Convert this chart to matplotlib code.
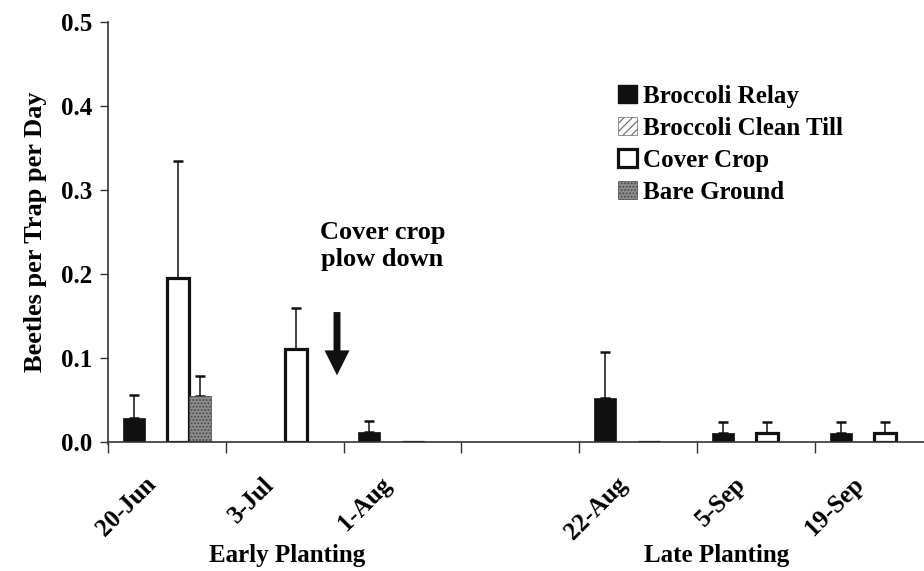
import numpy as np
import matplotlib
matplotlib.use('Agg')
import matplotlib.pyplot as plt
from matplotlib.patches import Patch
from matplotlib.ticker import FixedLocator, NullFormatter

plt.rcParams['font.family'] = ['Liberation Serif', 'DejaVu Serif']
plt.rcParams['font.weight'] = 'bold'
plt.rcParams['hatch.linewidth'] = 0.8

# dates (the empty slot is the gap between early and late planting)
dates = ['20-Jun', '3-Jul', '1-Aug', '', '22-Aug', '5-Sep', '19-Sep']
nan = np.nan

# beetles per trap per day, mean and upper error
relay = [0.028, 0.0, 0.012, nan, 0.052, 0.011, 0.011]
relay_err = [0.028, 0.0, 0.013, nan, 0.055, 0.013, 0.013]
clean_till = [0.0, 0.0, 0.0, nan, 0.0, 0.0, 0.0]
clean_till_err = [0.0, 0.0, 0.0, nan, 0.0, 0.0, 0.0]
cover = [0.195, 0.111, 0.0, nan, 0.0, 0.011, 0.011]
cover_err = [0.139, 0.049, 0.0, nan, 0.0, 0.013, 0.013]
bare = [0.055, 0.0, 0.0, nan, 0.0, 0.0, 0.0]
bare_err = [0.023, 0.0, 0.0, nan, 0.0, 0.0, 0.0]

group_names = ['Early Planting', 'Late Planting']
group_x = [1.02, 4.67]

fig = plt.figure(figsize=(9.24, 5.71), dpi=100)
ax = fig.add_axes([108 / 924, 129 / 571, 1 - 108 / 924, 420 / 571])

x = np.arange(len(dates))
w = 22 / 117.8

series = [
    (relay, relay_err, dict(facecolor='#111111', edgecolor='#111111', linewidth=0.5)),
    (clean_till, clean_till_err, dict(facecolor='white', edgecolor='#666666', hatch='////', linewidth=0.5)),
    (cover, cover_err, dict(facecolor='white', edgecolor='#111111', linewidth=2.3)),
    (bare, bare_err, dict(facecolor='#8c8c8c', edgecolor='#444444', hatch='.....', linewidth=0.5)),
]

for i, (vals, errs, style) in enumerate(series):
    pos = x + (i - 1.5) * w
    vals = np.array(vals)
    errs = np.array(errs)
    ax.bar(pos, vals, width=w, zorder=2, **style)
    m = errs > 0
    ax.errorbar(pos[m], vals[m], yerr=[np.zeros(m.sum()), errs[m]], fmt='none',
                ecolor='#111111', elinewidth=1.1, capsize=3.5, capthick=1.8, zorder=1)

ax.set_ylim(0, 0.5)
ax.set_xlim(-0.5, -0.5 + (924 - 108) / 117.8)
ax.set_yticks([0.0, 0.1, 0.2, 0.3, 0.4, 0.5])
ax.set_yticklabels(['0.0', '0.1', '0.2', '0.3', '0.4', '0.5'])

ax.xaxis.set_major_locator(FixedLocator(np.arange(len(dates) + 1) - 0.5))
ax.xaxis.set_major_formatter(NullFormatter())
ax.set_xticks(x - 0.12, minor=True)
ax.set_xticklabels(dates, minor=True, rotation=45, ha='right', va='center',
                   rotation_mode='anchor', fontsize=18, fontweight='bold')
ax.tick_params(axis='x', which='minor', length=0, pad=28)
ax.tick_params(axis='x', which='major', length=8, width=1, direction='out', color='#333333')
ax.tick_params(axis='y', length=6, width=1, direction='out', labelsize=18, color='#333333', pad=5)

for s in ['top', 'right']:
    ax.spines[s].set_visible(False)
for s in ['left', 'bottom']:
    ax.spines[s].set_linewidth(1.2)
    ax.spines[s].set_color('#333333')
ax.spines['left'].set_bounds(-0.002, 0.5)

ax.set_ylabel('Beetles per Trap per Day', fontsize=19, fontweight='bold', labelpad=10)

for name, gx in zip(group_names, group_x):
    ax.text(gx, -0.135, name, ha='center', va='center', fontsize=18, fontweight='bold')

# plow down annotation
ax.annotate('', xy=(1.444, 0.076), xytext=(1.444, 0.158),
            arrowprops=dict(arrowstyle='simple,head_length=1.8,head_width=1.8,tail_width=0.5',
                            color='#111111', lw=0))
ax.text(1.83, 0.233, 'Cover crop\nplow down', ha='center', va='center', fontsize=19,
        fontweight='bold', linespacing=1.2)

handles = [
    Patch(facecolor='#111111', edgecolor='#111111', label='Broccoli Relay'),
    Patch(facecolor='white', edgecolor='#666666', hatch='////', linewidth=0.5, label='Broccoli Clean Till'),
    Patch(facecolor='white', edgecolor='#111111', linewidth=2.3, label='Cover Crop'),
    Patch(facecolor='#8c8c8c', edgecolor='#444444', hatch='.....', linewidth=0.5, label='Bare Ground'),
]
leg = ax.legend(handles=handles, loc='upper left', bbox_to_anchor=(618 / 924, 1 - 85 / 571),
                bbox_transform=fig.transFigure, frameon=False, fontsize=18,
                handlelength=0.75, handleheight=0.75, handletextpad=0.25, labelspacing=0.36,
                borderpad=0, borderaxespad=0)

fig.savefig('out.png', dpi=100)
